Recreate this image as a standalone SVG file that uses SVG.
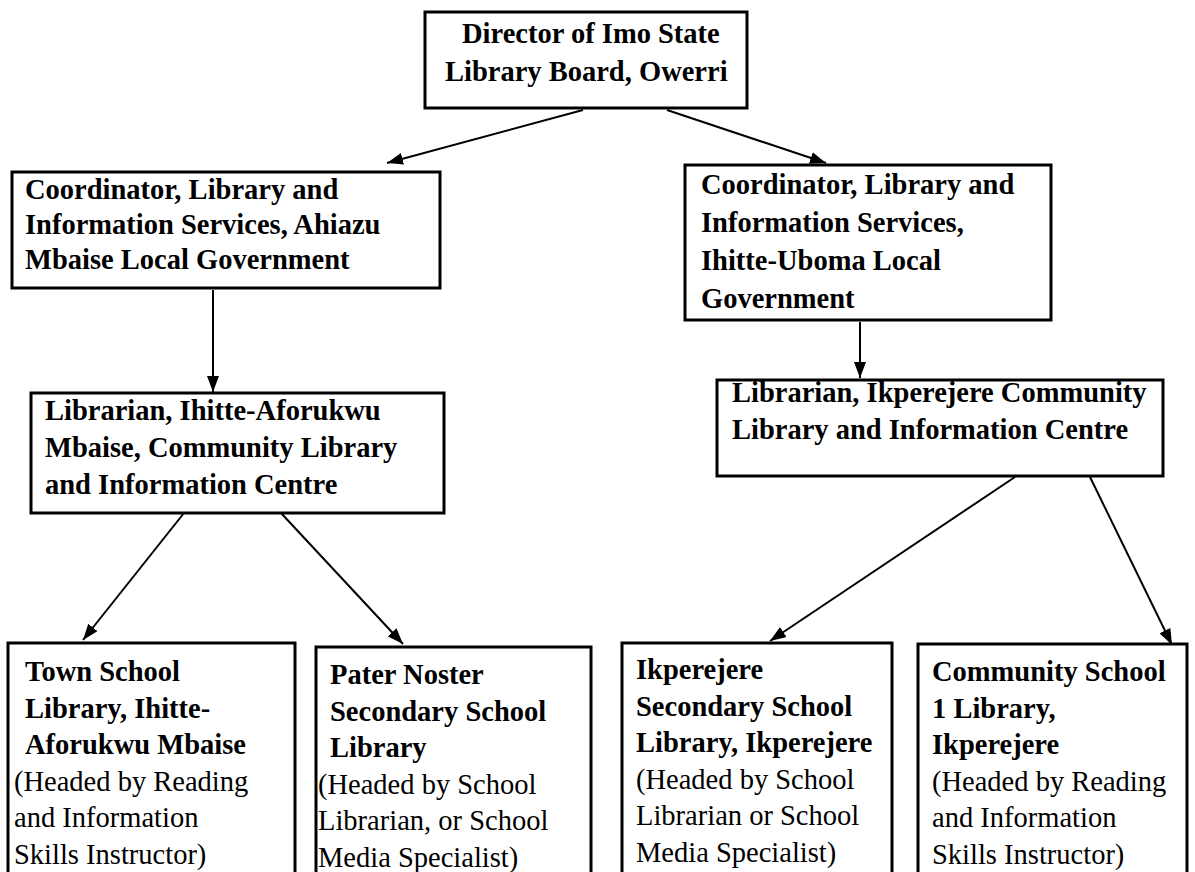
<svg xmlns="http://www.w3.org/2000/svg" width="1195" height="872" viewBox="0 0 1195 872">
  <defs>
    <marker id="arrow" viewBox="0 0 16 12" refX="16" refY="6" markerWidth="16" markerHeight="12" markerUnits="userSpaceOnUse" orient="auto">
      <path d="M0,0 L16,6 L0,12 z" fill="#000"/>
    </marker>
    <style>
      .box { fill: #fff; stroke: #000; stroke-width: 3; }
      .t { font-family: "Liberation Serif", "Times New Roman", serif; font-size: 28.5px; fill: #000; }
      .b { font-weight: bold; }
      .edge { stroke: #000; stroke-width: 2; fill: none; marker-end: url(#arrow); }
    </style>
  </defs>
  <rect width="1195" height="872" fill="#fff"/>

  <!-- connectors -->
  <g id="connectors">
    <line class="edge" x1="583" y1="110" x2="387" y2="163"/>
    <line class="edge" x1="667" y1="110" x2="826" y2="163"/>
    <line class="edge" x1="213" y1="290" x2="213" y2="392"/>
    <line class="edge" x1="860" y1="322" x2="860" y2="378"/>
    <line class="edge" x1="184" y1="513" x2="83" y2="640"/>
    <line class="edge" x1="281" y1="513" x2="403" y2="644"/>
    <line class="edge" x1="1015" y1="477" x2="770" y2="641"/>
    <line class="edge" x1="1090" y1="477" x2="1172" y2="645"/>
  </g>

  <!-- Director -->
  <g id="director">
    <rect class="box" x="425" y="12" width="322" height="96"/>
    <text class="t b" x="462" y="43">Director of Imo State</text>
    <text class="t b" x="445" y="81">Library Board, Owerri</text>
  </g>

  <!-- Coordinator, Ahiazu Mbaise -->
  <g id="coord-ahiazu">
    <rect class="box" x="12" y="172" width="428" height="116"/>
    <text class="t b" x="25" y="199">Coordinator, Library and</text>
    <text class="t b" x="25" y="234">Information Services, Ahiazu</text>
    <text class="t b" x="25" y="269">Mbaise Local Government</text>
  </g>

  <!-- Coordinator, Ihitte-Uboma -->
  <g id="coord-ihitte">
    <rect class="box" x="685" y="165" width="366" height="155"/>
    <text class="t b" x="701" y="194">Coordinator, Library and</text>
    <text class="t b" x="701" y="232">Information Services,</text>
    <text class="t b" x="701" y="270">Ihitte-Uboma Local</text>
    <text class="t b" x="701" y="308">Government</text>
  </g>

  <!-- Librarian, Ihitte-Aforukwu -->
  <g id="librarian-aforukwu">
    <rect class="box" x="31" y="393" width="413" height="120"/>
    <text class="t b" x="45" y="420">Librarian, Ihitte-Aforukwu</text>
    <text class="t b" x="45" y="457">Mbaise, Community Library</text>
    <text class="t b" x="45" y="494">and Information Centre</text>
  </g>

  <!-- Librarian, Ikperejere -->
  <g id="librarian-ikperejere">
    <rect class="box" x="717" y="380" width="446" height="96"/>
    <text class="t b" x="732" y="402">Librarian, Ikperejere Community</text>
    <text class="t b" x="732" y="439">Library and Information Centre</text>
  </g>

  <!-- Town School Library -->
  <g id="town-school">
    <rect class="box" x="8" y="643" width="287" height="240"/>
    <text class="t b" x="25" y="681">Town School</text>
    <text class="t b" x="25" y="718">Library, Ihitte-</text>
    <text class="t b" x="25" y="754">Aforukwu Mbaise</text>
    <text class="t" x="14" y="791">(Headed by Reading</text>
    <text class="t" x="14" y="827">and Information</text>
    <text class="t" x="14" y="864">Skills Instructor)</text>
  </g>

  <!-- Pater Noster Secondary School Library -->
  <g id="pater-noster">
    <rect class="box" x="316" y="647" width="275" height="240"/>
    <text class="t b" x="330" y="684">Pater Noster</text>
    <text class="t b" x="330" y="721">Secondary School</text>
    <text class="t b" x="330" y="757">Library</text>
    <text class="t" x="318" y="794">(Headed by School</text>
    <text class="t" x="318" y="830">Librarian, or School</text>
    <text class="t" x="318" y="867">Media Specialist)</text>
  </g>

  <!-- Ikperejere Secondary School Library -->
  <g id="ikperejere-secondary">
    <rect class="box" x="622" y="643" width="270" height="240"/>
    <text class="t b" x="636" y="679">Ikperejere</text>
    <text class="t b" x="636" y="716">Secondary School</text>
    <text class="t b" x="636" y="752">Library, Ikperejere</text>
    <text class="t" x="636" y="789">(Headed by School</text>
    <text class="t" x="636" y="825">Librarian or School</text>
    <text class="t" x="636" y="862">Media Specialist)</text>
  </g>

  <!-- Community School 1 Library -->
  <g id="community-school">
    <rect class="box" x="918" y="644" width="269" height="240"/>
    <text class="t b" x="932" y="681">Community School</text>
    <text class="t b" x="932" y="718">1 Library,</text>
    <text class="t b" x="932" y="754">Ikperejere</text>
    <text class="t" x="932" y="791">(Headed by Reading</text>
    <text class="t" x="932" y="827">and Information</text>
    <text class="t" x="932" y="864">Skills Instructor)</text>
  </g>
</svg>
